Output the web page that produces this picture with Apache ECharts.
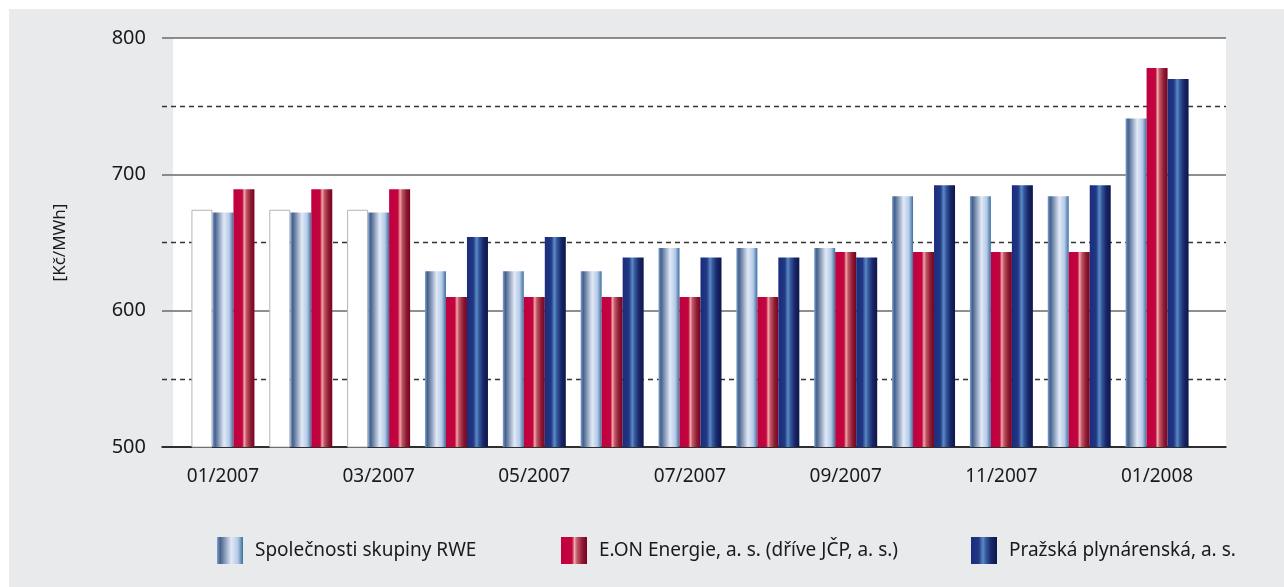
<!DOCTYPE html>
<html>
<head>
<meta charset="utf-8">
<script src="https://cdn.jsdelivr.net/npm/echarts@6/dist/echarts.min.js"></script>
<style>
html, body { margin: 0; padding: 0; }
#chart { width: 1284px; height: 587px; }
</style>
</head>
<body>
<div id="chart"></div>
<script>
// měsíce
const months = ['01/2007', '02/2007', '03/2007', '04/2007', '05/2007', '06/2007', '07/2007',
    '08/2007', '09/2007', '10/2007', '11/2007', '12/2007', '01/2008']
// ceny [Kč/MWh]
const rwe = [672, 672, 672, 629, 629, 629, 646, 646, 646, 684, 684, 684, 741]
const eon = [689, 689, 689, 610, 610, 610, 610, 610, 643, 643, 643, 643, 778]
const pp = [null, null, null, 654, 654, 639, 639, 639, 639, 692, 692, 692, 770]
// bílé sloupce v prvních třech měsících
const blank = [674, 674, 674]
const yTicks = [500, 600, 700, 800]

const names = ['Společnosti skupiny RWE', 'E.ON Energie, a. s. (dříve JČP, a. s.)', 'Pražská plynárenská, a. s.']
const font = '"Noto Sans", sans-serif'

function grad(stops) {
    return {
        type: 'linear', x: 0, y: 0, x2: 1, y2: 0,
        colorStops: stops.map(s => ({ offset: s[0], color: s[1] }))
    }
}
const rweColor = grad([[0, '#7fa3d3'], [0.12, '#44608a'], [0.55, '#e2e9f6'], [0.8, '#b4cae8'], [1, '#3d6f9e']])
const eonColor = grad([[0, '#c0003f'], [0.42, '#c2053f'], [0.52, '#f2a8a8'], [0.62, '#c05868'], [0.82, '#8e1c32'], [1, '#760022']])
const ppColor = grad([[0, '#1b2b7e'], [0.3, '#213882'], [0.46, '#5a8ac8'], [0.58, '#35589a'], [0.78, '#18276a'], [1, '#0e1648']])
const blankStyle = { color: '#ffffff', borderColor: '#b4b4b4', borderWidth: 1 }

// v prvních třech měsících je pořadí posunuté: bílý, RWE, E.ON
const slot1 = rwe.map((v, i) => i < 3 ? { value: blank[i], itemStyle: blankStyle } : v)
const slot2 = eon.map((v, i) => i < 3 ? { value: rwe[i], itemStyle: { color: rweColor } } : v)
const slot3 = pp.map((v, i) => i < 3 ? { value: eon[i], itemStyle: { color: eonColor } } : v)

const chart = echarts.init(document.getElementById('chart'))

chart.setOption({
    backgroundColor: '#e9eaec',
    animation: false,
    graphic: [
        { type: 'rect', z: -10, shape: { x: 0, y: 0, width: 1284, height: 9 }, style: { fill: '#fff' } },
        { type: 'rect', z: -10, shape: { x: 0, y: 0, width: 9, height: 587 }, style: { fill: '#fff' } },
        { type: 'rect', z: -10, shape: { x: 173, y: 38, width: 1053, height: 409 }, style: { fill: '#fff' } }
    ],
    legend: [0, 1, 2].map(i => ({
        data: [names[i]],
        left: [217, 561, 971][i],
        top: 537,
        padding: 0,
        itemWidth: 26,
        itemHeight: 27,
        icon: 'rect',
        selectedMode: false,
        textStyle: { fontFamily: font, fontSize: 19, color: '#1a1a1a', padding: [0, 0, 0, 7] }
    })),
    grid: [
        { left: 162, right: 58, top: 38, bottom: 140 },
        { left: 184, right: 88, top: 38, bottom: 140 }
    ],
    xAxis: [
        {
            type: 'value', gridIndex: 0, min: 0, max: 1,
            axisLine: { show: true, lineStyle: { color: '#111', width: 1.5 } },
            axisTick: { show: false }, axisLabel: { show: false }, splitLine: { show: false }
        },
        {
            type: 'category', gridIndex: 1, data: months,
            axisLine: { show: false }, axisTick: { show: false },
            axisLabel: { interval: 1, margin: 20, fontFamily: font, fontSize: 19, color: '#1a1a1a' }
        }
    ],
    yAxis: [
        {
            type: 'value', gridIndex: 0,
            min: yTicks[0], max: yTicks[yTicks.length - 1], interval: 100,
            name: '[Kč/MWh]', nameLocation: 'middle', nameGap: 93,
            nameTextStyle: { fontFamily: font, fontSize: 17, color: '#1a1a1a' },
            axisLine: { show: false }, axisTick: { show: false },
            axisLabel: { margin: 16, fontFamily: font, fontSize: 20, color: '#1a1a1a' },
            splitLine: { lineStyle: { color: '#6a6a6a', width: 1.6 } },
            minorTick: { show: false, splitNumber: 2 },
            minorSplitLine: { show: true, lineStyle: { color: '#333', width: 1.3, type: [5, 4] } }
        },
        {
            type: 'value', gridIndex: 1, min: 500, max: 800, show: false, splitLine: { show: false }
        }
    ],
    series: [
        { name: names[0], type: 'bar', xAxisIndex: 1, yAxisIndex: 1, data: slot1, barWidth: 21, barGap: 0, itemStyle: { color: rweColor } },
        { name: names[1], type: 'bar', xAxisIndex: 1, yAxisIndex: 1, data: slot2, barWidth: 21, barGap: 0, itemStyle: { color: eonColor } },
        { name: names[2], type: 'bar', xAxisIndex: 1, yAxisIndex: 1, data: slot3, barWidth: 21, barGap: 0, itemStyle: { color: ppColor } }
    ]
})
</script>
</body>
</html>
